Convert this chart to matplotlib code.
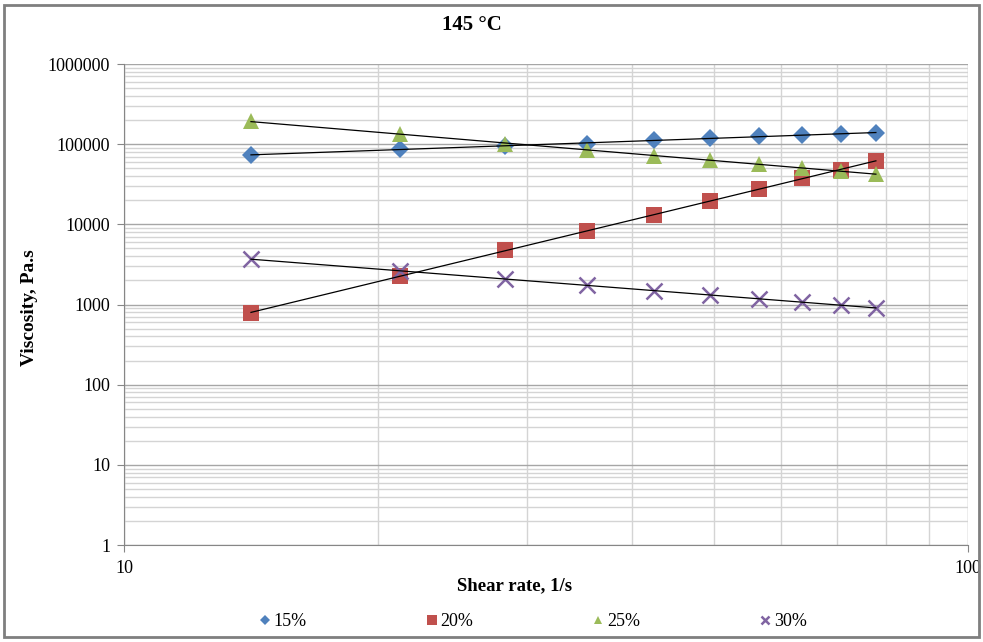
import numpy as np
import matplotlib
matplotlib.use("Agg")
import matplotlib.pyplot as plt
from matplotlib.patches import Rectangle
from matplotlib.ticker import LogLocator, FixedLocator, NullFormatter, FixedFormatter

plt.rcParams['font.family'] = ['Liberation Serif', 'DejaVu Serif']

shear_rate = [14.14, 21.21, 28.28, 35.36, 42.43, 49.50, 56.57, 63.64, 70.71, 77.78]
visc_15 = [73300, 87000, 94800, 100400, 112700, 119400, 126400, 130000, 134000, 137700]
visc_20 = [783, 2266, 4786, 8260, 13070, 19540, 27550, 37800, 47600, 61700]
visc_25 = [194500, 134000, 100400, 84600, 71200, 63500, 56500, 50400, 46300, 42400]
visc_30 = [3690, 2616, 2080, 1750, 1473, 1313, 1170, 1074, 986, 904]

labels = ['15%', '20%', '25%', '30%']
series = [visc_15, visc_20, visc_25, visc_30]
colors = ['#4F81BD', '#C0504D', '#9BBB59', '#8064A2']
markers = ['D', 's', '^', 'x']
msizes = [9, 12, 11, 11]

fig = plt.figure(figsize=(9.83, 6.42), dpi=100)
ax = fig.add_axes([124/983, 1-545/642, (968-124)/983, (545-64)/642])

x = np.array(shear_rate)
handles = []
for vals, c, m, ms, lab in zip(series, colors, markers, msizes, labels):
    y = np.array(vals, dtype=float)
    if m == 'x':
        h, = ax.plot(x, y, linestyle='none', marker=m, color=c, markersize=ms,
                     markeredgewidth=1.8, label=lab, zorder=3)
    else:
        h, = ax.plot(x, y, linestyle='none', marker=m, color=c, markersize=ms,
                     markeredgewidth=0, label=lab, zorder=3)
    handles.append(h)
    # power-law trendline
    b, a = np.polyfit(np.log10(x), np.log10(y), 1)
    ax.plot(x, 10**(a + b*np.log10(x)), color='black', lw=0.9, zorder=4)

ax.set_xscale('log')
ax.set_yscale('log')
ax.set_xlim(10, 100)
ax.set_ylim(1, 1e6)

ax.xaxis.set_major_locator(FixedLocator([10, 100]))
ax.xaxis.set_major_formatter(FixedFormatter(['10', '100']))
ax.xaxis.set_minor_locator(LogLocator(base=10, subs=np.arange(2, 10), numticks=20))
ax.xaxis.set_minor_formatter(NullFormatter())
yt = [1, 10, 100, 1000, 10000, 100000, 1000000]
ax.yaxis.set_major_locator(FixedLocator(yt))
ax.yaxis.set_major_formatter(FixedFormatter([str(v) for v in yt]))
ax.yaxis.set_minor_locator(LogLocator(base=10, subs=np.arange(2, 10), numticks=20))
ax.yaxis.set_minor_formatter(NullFormatter())

ax.grid(which='major', color='#A6A6A6', lw=1.0)
ax.grid(which='minor', color='#D4D4D4', lw=1.0)
ax.set_axisbelow(True)

for s in ['top', 'right']:
    ax.spines[s].set_visible(False)
ax.spines['left'].set_color('#868686')
ax.spines['bottom'].set_color('#868686')
ax.tick_params(which='major', direction='out', length=5, color='#868686', labelsize=13, pad=5)
ax.tick_params(which='minor', length=0)
ax.tick_params(axis='x', pad=6)

fig.text(472/983, 1-25/642, '145 °C', ha='center', va='center', fontsize=15, fontweight='bold')
fig.text(29/983, 1-308/642, 'Viscosity, Pa.s', ha='center', va='center', rotation=90,
         fontsize=14, fontweight='bold')
fig.text(515/983, 1-586/642, 'Shear rate, 1/s', ha='center', va='center', fontsize=13.5,
         fontweight='bold')

leg = fig.legend(handles=handles, labels=labels, loc='center', ncol=4,
                 bbox_to_anchor=(533/983, 1-622/642), frameon=False, fontsize=13,
                 markerscale=0.55, handlelength=0.6, handletextpad=0.2, columnspacing=6.6)

fig.add_artist(Rectangle((4/983, 5/642), 975/983, 632/642, transform=fig.transFigure,
                         fill=False, edgecolor='#7F7F7F', lw=2))

fig.savefig('out.png', dpi=100)
